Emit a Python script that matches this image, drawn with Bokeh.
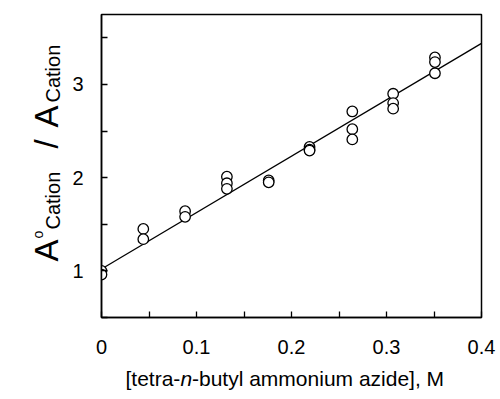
import math
from bokeh.plotting import figure
from bokeh.models import FixedTicker, Range1d
from bokeh.layouts import row, column
from bokeh.core.properties import value
from bokeh.embed import file_html
from bokeh.resources import INLINE

# ---- data ----
conc = [0.0, 0.0,
        0.044, 0.044,
        0.088, 0.088,
        0.132, 0.132, 0.132,
        0.176, 0.176,
        0.219, 0.219, 0.219,
        0.264, 0.264, 0.264,
        0.307, 0.307, 0.307,
        0.351, 0.351, 0.351]
ratio = [1.00, 0.96,
         1.45, 1.34,
         1.64, 1.58,
         2.01, 1.94, 1.88,
         1.97, 1.95,
         2.33, 2.30, 2.29,
         2.71, 2.52, 2.41,
         2.90, 2.80, 2.74,
         3.29, 3.24, 3.12]
fit_x = [0.0, 0.4]
fit_y = [1.02, 3.44]

x_ticks = [0.0, 0.1, 0.2, 0.3, 0.4]
x_tick_labels = ["0", "0.1", "0.2", "0.3", "0.4"]
x_minor = [0.05, 0.15, 0.25, 0.35]
y_ticks = [1, 2, 3]
y_tick_labels = ["1", "2", "3"]
y_minor = [0.5, 1.5, 2.5, 3.5]

X0, X1 = 0.0, 0.4
Y0, Y1 = 0.5, 3.75

FONT = "Liberation Sans"

# layout geometry (pixels)
W, H = 500, 399
LW = 68            # left strip with the y title
MH = 362           # height of main row
BH = H - MH        # bottom strip with the x title
MW = W - LW
FL, FR, FT, FB = 101, 481, 14, 317   # frame edges on the page

p = figure(width=MW, height=MH, output_backend="svg", toolbar_location=None,
           x_range=Range1d(X0, X1), y_range=Range1d(Y0, Y1),
           min_border_left=FL - LW, min_border_right=W - FR,
           min_border_top=FT, min_border_bottom=MH - FB)
p.background_fill_color = "white"
p.border_fill_color = "white"
p.grid.visible = False
p.outline_line_color = "black"
p.outline_line_width = 1.5

p.xaxis.ticker = FixedTicker(ticks=x_ticks, minor_ticks=x_minor)
p.yaxis.ticker = FixedTicker(ticks=y_ticks, minor_ticks=y_minor)
p.xaxis.major_label_overrides = {t: s for t, s in zip(x_ticks, x_tick_labels)}
p.yaxis.major_label_overrides = {t: s for t, s in zip(y_ticks, y_tick_labels)}
for ax in (p.xaxis, p.yaxis):
    ax.axis_line_color = "black"
    ax.axis_line_width = 1.5
    ax.major_tick_in = 6
    ax.major_tick_out = 0
    ax.minor_tick_in = 6
    ax.minor_tick_out = 0
    ax.major_tick_line_color = "black"
    ax.minor_tick_line_color = "black"
    ax.major_tick_line_width = 1.3
    ax.minor_tick_line_width = 1.3
    ax.major_label_text_font = FONT
    ax.major_label_text_font_size = "20px"
    ax.major_label_text_color = "black"
p.xaxis.major_label_standoff = 22
p.yaxis.major_label_standoff = 18

p.line(fit_x, fit_y, line_color="black", line_width=1.3)
p.scatter(conc, ratio, marker="circle", size=10.5, fill_color="white",
          line_color="black", line_width=1.3)


def strip(width, height, x0, x1, ytop, ybot, bt=0, bb=0):
    f = figure(width=width, height=height, output_backend="svg",
               toolbar_location=None, x_axis_type=None, y_axis_type=None,
               x_range=Range1d(x0, x1), y_range=Range1d(ybot, ytop),
               min_border=0, min_border_top=bt, min_border_bottom=bb,
               title=None)
    f.grid.visible = False
    f.outline_line_color = None
    f.background_fill_color = "white"
    f.border_fill_color = "white"
    return f


def put(f, sx, sy, txt, size, angle=0.0, style="normal"):
    f.text(x=[sx], y=[sy], text=[txt], angle=angle,
           text_font=value(FONT), text_font_size=value(f"{size}px"),
           text_font_style=style, text_color="black",
           text_align="left", text_baseline="alphabetic")


# left strip: its frame spans page y FT..FB, x 0..LW
left = strip(LW, MH, 0, LW, FT, FB, bt=FT, bb=MH - FB)
R = math.pi / 2
put(left, 46, 261, "A", 33, angle=R)
put(left, 37, 238, "o", 14, angle=R)
put(left, 52, 229, "Cation", 20, angle=R)
put(left, 46, 148, "/", 33, angle=R)
put(left, 46, 127, "A", 33, angle=R)
put(left, 52, 102, "Cation", 20, angle=R)

# bottom strip: page coords x 0..W, y MH..H
bottom = strip(W, BH, 0, W, MH, H)
put(bottom, 125, 378, "[tetra-", 21)
put(bottom, 179.9, 378, "n", 21, style="italic")
put(bottom, 191.5, 378, "-butyl ammonium azide], M", 21)

layout = column(row(left, p, spacing=0), bottom, spacing=0)

open("out.html", "w").write(file_html(layout, INLINE))
